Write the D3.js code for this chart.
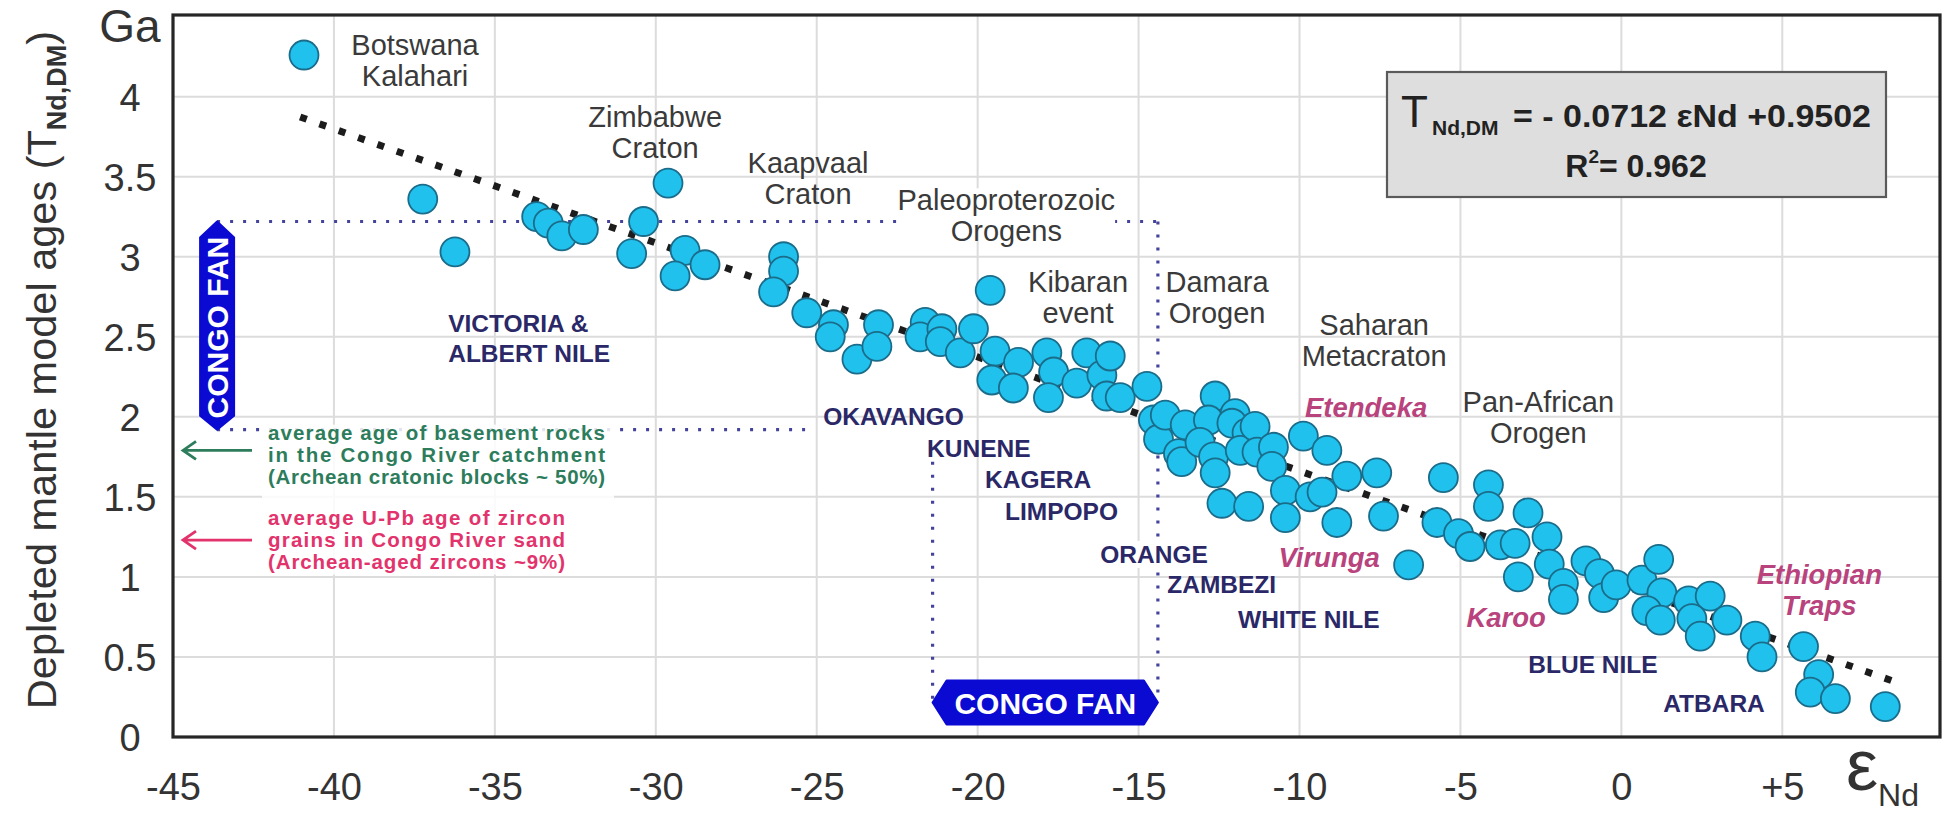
<!DOCTYPE html>
<html>
<head>
<meta charset="utf-8">
<script src="https://cdn.jsdelivr.net/npm/d3@7"></script>
<style>
  html, body { margin: 0; padding: 0; background: #fff; }
  svg { display: block; font-family: "Liberation Sans", Arial, Helvetica, sans-serif; }
</style>
</head>
<body>
<svg id="chart" width="1955" height="825"></svg>
<script>
// εNd of each river-sand / sediment sample
const epsNd = [
  -40.93, -37.24, -36.24, -33.70, -33.34, -32.92, -32.25, -30.38, -30.75, -29.62,
  -29.09, -29.40, -28.47, -26.03, -26.03, -26.34, -25.31, -24.48, -24.58, -23.75,
  -23.08, -23.13, -21.63, -21.79, -21.11, -21.16, -20.54, -20.13, -19.61, -19.46,
  -18.73, -19.56, -18.89, -17.85, -17.64, -17.80, -16.92, -16.61, -16.14, -15.88,
  -15.99, -15.57, -14.74, -14.54, -14.38, -14.17,
  -13.55, -13.76, -13.66, -12.62, -12.83, -13.09, -12.67, -12.62, -12.00, -12.10,
  -11.63, -11.84, -11.38, -11.32, -10.81, -10.86, -10.44, -9.88, -9.15, -9.67,
  -9.30, -8.53, -7.60, -8.84, -10.44, -12.41, -11.58, -7.39, -6.61, -5.53,
  -4.13, -4.13, -2.90, -5.73, -5.06, -4.70, -3.76, -3.30, -2.31, -3.20,
  -2.24, -1.80, -1.80, -1.10, -0.68, -0.55, -0.16, 0.64, 1.16, 1.26,
  0.79, 1.21, 2.09, 2.76, 2.19, 2.45, 3.28, 4.16, 4.37, 5.66,
  6.13, 5.87, 6.65, 8.20
];
// Depleted-mantle Nd model age (Ga) of the same samples
const tNdDM = [
  4.26, 3.36, 3.03, 3.25, 3.21, 3.13, 3.17, 3.22, 3.02, 3.46,
  3.04, 2.88, 2.95, 3.00, 2.91, 2.78, 2.65, 2.575, 2.50, 2.36,
  2.575, 2.44, 2.59, 2.50, 2.55, 2.47, 2.40, 2.55, 2.79, 2.41,
  2.34, 2.23, 2.18, 2.40, 2.28, 2.12, 2.21, 2.40, 2.26, 2.38,
  2.13, 2.12, 2.19, 1.98, 1.86, 2.01,
  1.95, 1.77, 1.72, 2.13, 1.98, 1.84, 1.75, 1.65, 2.02, 1.96,
  1.90, 1.79, 1.94, 1.78, 1.81, 1.69, 1.54, 1.88, 1.79, 1.50,
  1.53, 1.63, 1.65, 1.34, 1.37, 1.46, 1.44, 1.38, 1.075, 1.62,
  1.575, 1.44, 1.40, 1.34, 1.27, 1.19, 1.20, 1.21, 1.25, 1.00,
  1.08, 0.96, 0.86, 1.10, 1.02, 0.87, 0.95, 0.98, 1.11, 0.90,
  0.79, 0.73, 0.85, 0.88, 0.74, 0.63, 0.73, 0.63, 0.50, 0.565,
  0.39, 0.28, 0.24, 0.19
];

// Axis ticks
const xTickValues = [-45, -40, -35, -30, -25, -20, -15, -10, -5, 0, 5];
const xTickLabels = ["-45", "-40", "-35", "-30", "-25", "-20", "-15", "-10", "-5", "0", "+5"];
const yTickValues = [0, 0.5, 1, 1.5, 2, 2.5, 3, 3.5, 4];
const yTickLabels = ["0", "0.5", "1", "1.5", "2", "2.5", "3", "3.5", "4"];

// Linear regression of model age on εNd
const fitSlope = -0.0712;
const fitIntercept = 0.9502;
const fitR2 = 0.962;
const fitEpsRange = [-41.05, 8.6];

// Congo Fan envelope (εNd range and model-age range)
const congoFanEps = [-21.4, -14.4];
const congoFanAge = [1.92, 3.22];

// Geological source provinces: name lines, εNd, Ga of first baseline
const provinceNames = [["Botswana", "Kalahari"], ["Zimbabwe", "Craton"], ["Kaapvaal", "Craton"],
  ["Paleoproterozoic", "Orogens"], ["Kibaran", "event"], ["Damara", "Orogen"],
  ["Saharan", "Metacraton"], ["Pan-African", "Orogen"]];
const provinceEps = [-37.48, -30.02, -25.27, -19.11, -16.88, -12.56, -7.68, -2.58];
const provinceAge = [4.26, 3.81, 3.525, 3.29, 2.78, 2.78, 2.51, 2.03];

// Volcanic provinces
const volcanicNames = [["Etendeka"], ["Virunga"], ["Karoo"], ["Ethiopian", "Traps"]];
const volcanicEps = [-7.93, -9.08, -3.58, 6.15];
const volcanicAge = [2.0, 1.06, 0.69, 0.955];

// River names (left-aligned)
const riverNames = [["VICTORIA &", "ALBERT NILE"], ["OKAVANGO"], ["KUNENE"], ["KAGERA"], ["LIMPOPO"],
  ["ORANGE"], ["ZAMBEZI"], ["WHITE NILE"], ["BLUE NILE"], ["ATBARA"]];
const riverEps = [-36.45, -24.8, -21.57, -19.77, -19.15, -16.19, -14.11, -11.91, -2.89, 1.3];
const riverAge = [2.53, 1.95, 1.75, 1.556, 1.356, 1.0875, 0.9, 0.681, 0.4, 0.156];

// Reference ages marked with arrows on the age axis
const basementAge = 1.79;
const zirconAge = 1.23;
const basementNote = ["average age of basement rocks", "in the Congo River catchment", "(Archean cratonic blocks ~ 50%)"];
const zirconNote = ["average U-Pb age of zircon", "grains in Congo River sand", "(Archean-aged zircons ~9%)"];

const svg = d3.select("#chart");
const x = d3.scaleLinear().domain([-45, 9.9]).range([173, 1940]);
const y = d3.scaleLinear().domain([0, 4.51]).range([737, 15]);
const [x0, x1] = x.range();
const [yb, yt] = y.range();

// Grid
const grid = svg.append("g").attr("stroke", "#dcdcdc").attr("stroke-width", 2);
grid.selectAll("line.v").data(xTickValues.filter(v => v > -45)).join("line")
  .attr("x1", d => x(d)).attr("x2", d => x(d)).attr("y1", yt).attr("y2", yb);
grid.selectAll("line.h").data(yTickValues.filter(v => v > 0)).join("line")
  .attr("x1", x0).attr("x2", x1).attr("y1", d => y(d)).attr("y2", d => y(d));

// Axes tick labels
const fmtX = d => xTickLabels[xTickValues.indexOf(d)];
const fmtY = d => yTickLabels[yTickValues.indexOf(d)];
const gx = svg.append("g").attr("transform", `translate(0,${yb})`)
  .call(d3.axisBottom(x).tickValues(xTickValues).tickFormat(fmtX).tickSize(0).tickPadding(36));
gx.select(".domain").remove();
gx.selectAll("text").attr("font-size", 38).attr("fill", "#333").attr("font-family", null);

const gy = svg.append("g").attr("transform", `translate(${x0},0)`)
  .call(d3.axisLeft(y).tickValues(yTickValues).tickFormat(fmtY).tickSize(0));
gy.select(".domain").remove();
gy.selectAll("text").attr("font-size", 38).attr("fill", "#333").attr("font-family", null)
  .attr("text-anchor", "middle").attr("x", -43).attr("dy", "0.36em");

svg.append("text").attr("x", 130).attr("y", 42).attr("text-anchor", "middle")
  .attr("font-size", 46).attr("fill", "#333").text("Ga");

// Age axis title
const yTitle = svg.append("text").attr("transform", "translate(56,370) rotate(-90)")
  .attr("text-anchor", "middle").attr("font-size", 41.5).attr("fill", "#333");
yTitle.append("tspan").text("Depleted mantle model ages (T");
yTitle.append("tspan").attr("font-size", 27).attr("font-weight", "bold").attr("dy", 10).text("Nd,DM");
yTitle.append("tspan").attr("dy", -10).text(")");

// εNd axis title
const xTitle = svg.append("text").attr("x", 1846).attr("y", 790).attr("fill", "#333");
xTitle.append("tspan").attr("font-size", 72).text("ε");
xTitle.append("tspan").attr("font-size", 32).attr("dy", 16).text("Nd");

// Congo Fan envelope (dotted)
const dotted = svg.append("g").attr("fill", "none").attr("stroke", "#44449c")
  .attr("stroke-width", 3.2).attr("stroke-dasharray", "3 10");
const fanMarkerEps = -43.63;
dotted.append("line").attr("x1", x(fanMarkerEps)).attr("x2", x(congoFanEps[1]))
  .attr("y1", y(congoFanAge[1])).attr("y2", y(congoFanAge[1]));
dotted.append("line").attr("x1", x(congoFanEps[1])).attr("x2", x(congoFanEps[1]))
  .attr("y1", y(congoFanAge[1])).attr("y2", y(0.22));
dotted.append("line").attr("x1", x(fanMarkerEps)).attr("x2", x(-25.2))
  .attr("y1", y(congoFanAge[0])).attr("y2", y(congoFanAge[0]));
dotted.append("line").attr("x1", x(congoFanEps[0])).attr("x2", x(congoFanEps[0]))
  .attr("y1", y(1.72)).attr("y2", y(0.22));

// Regression line
svg.append("line")
  .attr("x1", x(fitEpsRange[0])).attr("y1", y(fitSlope * fitEpsRange[0] + fitIntercept))
  .attr("x2", x(fitEpsRange[1])).attr("y2", y(fitSlope * fitEpsRange[1] + fitIntercept))
  .attr("stroke", "#1c1c1c").attr("stroke-width", 7).attr("stroke-dasharray", "7 13.5");

// Samples
svg.append("g").selectAll("circle").data(d3.range(epsNd.length)).join("circle")
  .attr("cx", i => x(epsNd[i])).attr("cy", i => y(tNdDM[i])).attr("r", 14.5)
  .attr("fill", "#20c1ec").attr("stroke", "#1b6c8a").attr("stroke-width", 1.8);

// Labels helper
function multiLine(g, lines, px, py, step, anchor) {
  const t = g.append("text").attr("x", px).attr("y", py).attr("text-anchor", anchor);
  lines.forEach((s, k) => t.append("tspan").attr("x", px).attr("y", py + k * step).text(s));
  return t;
}

const labels = svg.append("g");
provinceNames.forEach((lines, i) => {
  const t = multiLine(labels, lines, x(provinceEps[i]), y(provinceAge[i]), 31, "middle")
    .attr("font-size", 29).attr("fill", "#3a3a3a");
  if (lines[0] === "Paleoproterozoic") {
    const b = t.node().getBBox();
    labels.insert("rect", () => t.node()).attr("x", b.x).attr("y", b.y + 4)
      .attr("width", b.width).attr("height", 36).attr("fill", "#fff");
  }
});
volcanicNames.forEach((lines, i) => {
  multiLine(labels, lines, x(volcanicEps[i]), y(volcanicAge[i]), 31, "middle")
    .attr("font-size", 27.5).attr("font-weight", "bold").attr("font-style", "italic").attr("fill", "#b8437d");
});
riverNames.forEach((lines, i) => {
  const t = multiLine(labels, lines, x(riverEps[i]), y(riverAge[i]), 30, "start")
    .attr("font-size", 24.5).attr("font-weight", "bold").attr("fill", "#2b2868");
  if (lines[0] === "ORANGE") {
    const b = t.node().getBBox();
    labels.insert("rect", () => t.node()).attr("x", b.x).attr("y", b.y)
      .attr("width", b.width).attr("height", b.height).attr("fill", "#fff");
  }
});

// Reference-age arrows and notes
const notes = svg.append("g");
notes.append("rect").attr("x", 262).attr("y", y(congoFanAge[0]) - 5).attr("width", 352).attr("height", 150)
  .attr("fill", "#fff").attr("opacity", 0.85);
function arrow(age, color) {
  const ay = y(age);
  notes.append("path")
    .attr("d", `M252,${ay} L183,${ay} M196,${ay - 9} L183,${ay} L196,${ay + 9}`)
    .attr("fill", "none").attr("stroke", color).attr("stroke-width", 2.8);
}
arrow(basementAge, "#2d7d5c");
arrow(zirconAge, "#e2336c");
function note(lines, firstBaseline, width, color) {
  lines.forEach((s, k) => {
    notes.append("text").attr("x", 268).attr("y", firstBaseline + k * 22)
      .attr("font-size", 20.5).attr("font-weight", "bold").attr("fill", color)
      .attr("textLength", width).attr("lengthAdjust", "spacing").text(s);
  });
}
note(basementNote, 440, 337, "#2d7d5c");
note(zirconNote, 525, 297, "#e2336c");

// Congo Fan markers
const fanBlue = "#0a0ad2";
const vcx = x(fanMarkerEps), vtop = y(congoFanAge[1]), vbot = y(congoFanAge[0]);
svg.append("path")
  .attr("d", `M${vcx},${vtop} L${vcx + 17},${vtop + 16} L${vcx + 17},${vbot - 14} L${vcx},${vbot} L${vcx - 17},${vbot - 14} L${vcx - 17},${vtop + 16} Z`)
  .attr("fill", fanBlue).attr("stroke", fanBlue).attr("stroke-width", 2).attr("stroke-linejoin", "round");
svg.append("text").attr("transform", `translate(${vcx + 10.5},${(vtop + vbot) / 2 + 2}) rotate(-90)`)
  .attr("text-anchor", "middle").attr("font-size", 30).attr("font-weight", "bold").attr("fill", "#fff")
  .text("CONGO FAN");

const hl = x(congoFanEps[0]), hr = x(congoFanEps[1]), hc = y(0.215);
svg.append("path")
  .attr("d", `M${hl},${hc} L${hl + 14},${hc - 22} L${hr - 14},${hc - 22} L${hr},${hc} L${hr - 14},${hc + 22} L${hl + 14},${hc + 22} Z`)
  .attr("fill", fanBlue).attr("stroke", fanBlue).attr("stroke-width", 2).attr("stroke-linejoin", "round");
svg.append("text").attr("x", (hl + hr) / 2).attr("y", hc + 11).attr("text-anchor", "middle")
  .attr("font-size", 30).attr("font-weight", "bold").attr("fill", "#fff").text("CONGO FAN");

// Regression equation box
const eq = svg.append("g");
eq.append("rect").attr("x", 1387).attr("y", 72).attr("width", 499).attr("height", 125)
  .attr("fill", "#dedede").attr("stroke", "#5a5a5a").attr("stroke-width", 2.2);
eq.append("text").attr("x", 1401).attr("y", 127).attr("font-size", 44).attr("fill", "#222").text("T");
eq.append("text").attr("x", 1432).attr("y", 135).attr("font-size", 21).attr("font-weight", "bold")
  .attr("fill", "#222").text("Nd,DM");
eq.append("text").attr("x", 1513).attr("y", 127).attr("font-size", 32).attr("font-weight", "bold")
  .attr("fill", "#222").attr("textLength", 358).attr("lengthAdjust", "spacingAndGlyphs")
  .text(`= - ${Math.abs(fitSlope).toFixed(4)} εNd +${fitIntercept.toFixed(4)}`);
const r2 = eq.append("text").attr("x", 1636).attr("y", 177).attr("text-anchor", "middle")
  .attr("font-size", 32).attr("font-weight", "bold").attr("fill", "#222");
r2.append("tspan").text("R");
r2.append("tspan").attr("font-size", 19).attr("dy", -14).text("2");
r2.append("tspan").attr("dy", 14).text(`= ${fitR2.toFixed(3)}`);

// Plot frame
svg.append("rect").attr("x", x0).attr("y", yt).attr("width", x1 - x0).attr("height", yb - yt)
  .attr("fill", "none").attr("stroke", "#262626").attr("stroke-width", 3.2);
</script>
</body>
</html>
